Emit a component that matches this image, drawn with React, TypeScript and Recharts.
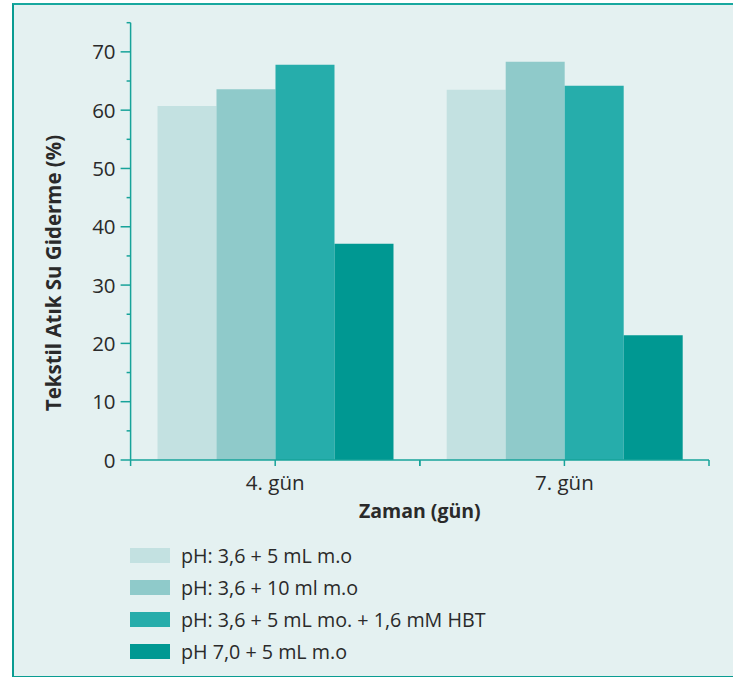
import React from "react";
import { BarChart, Bar, XAxis, YAxis } from "recharts";

// ==================== 数据 ====================
const categories = ["4. gün", "7. gün"];
const seriesNames = [
  "pH: 3,6 + 5 mL m.o",
  "pH: 3,6 + 10 ml m.o",
  "pH: 3,6 + 5 mL mo. + 1,6 mM HBT",
  "pH 7,0 + 5 mL m.o",
];
const series1 = [60.7, 63.5];
const series2 = [63.6, 68.3];
const series3 = [67.8, 64.2];
const series4 = [37.1, 21.4];
const yTicks = [0, 5, 10, 15, 20, 25, 30, 35, 40, 45, 50, 55, 60, 65, 70, 75];

const colors = ["#c3e1e1", "#8fcaca", "#26adab", "#009892"];
const axisColor = "#17a39a";
const textColor = "#2a2a2a";
const font = "'Open Sans', 'DejaVu Sans', sans-serif";

const data = categories.map((c, i) => ({
  name: c,
  s1: series1[i],
  s2: series2[i],
  s3: series3[i],
  s4: series4[i],
}));

const W = 733;
const H = 677;
const margin = { top: 22.7, right: 24, left: 0, bottom: 157 };
const Y_AXIS_W = 130.6;
const X_AXIS_H = 60;
const TICK = 10;
const TICK_MARGIN = 5;

function YTick(props: any) {
  const { x, y, payload } = props;
  const v = payload.value;
  const major = v % 10 === 0 && v <= 70;
  const axisX = x + TICK_MARGIN + TICK;
  const len = major ? TICK : 4;
  return (
    <g>
      <line x1={axisX - len} y1={y} x2={axisX} y2={y} stroke={axisColor} strokeWidth={1.5} />
      {major && (
        <text x={x} y={y} dy={7.5} textAnchor="end" fill={textColor} fontSize={20.5} fontFamily={font}>
          {v}
        </text>
      )}
    </g>
  );
}

function XTick(props: any) {
  const { x, y, payload } = props;
  const plotW = W - margin.left - Y_AXIS_W - margin.right;
  const half = payload.offset || plotW / categories.length / 2;
  const axisY = y - 8;
  return (
    <g>
      {[x - half, x, x + half].map((tx, i) => (
        <line key={i} x1={tx} y1={axisY} x2={tx} y2={axisY + 6} stroke={axisColor} strokeWidth={1.5} />
      ))}
      <text x={x} y={axisY + 30} textAnchor="middle" fill={textColor} fontSize={20.5} fontFamily={font}>
        {payload.value}
      </text>
    </g>
  );
}

export default function App() {
  return (
    <div style={{ position: "absolute", left: 0, top: 0, width: W, height: H, overflow: "hidden", background: "#fff" }}>
      <div
        style={{
          position: "absolute",
          left: 12,
          top: 3,
          width: W,
          height: H - 6,
          background: "#e4f1f1",
          borderLeft: "2.5px solid #0a9c92",
          borderTop: "2px solid #18a89f",
          borderBottom: "2px solid #0a9c92",
        }}
      />
      <div style={{ position: "absolute", left: 0, top: 0 }}>
        <BarChart width={W} height={H} data={data} margin={margin} barCategoryGap="9.3%" barGap={0}>
          <XAxis
            dataKey="name"
            height={X_AXIS_H}
            axisLine={{ stroke: axisColor, strokeWidth: 1.5 }}
            tickLine={false}
            tickSize={0}
            tickMargin={8}
            tick={<XTick />}
            label={{
              value: "Zaman (gün)",
              position: "insideBottom",
              offset: 0,
              dy: -2,
              fill: textColor,
              fontSize: 19.5,
              fontWeight: 700,
              fontFamily: font,
            }}
          />
          <YAxis
            type="number"
            domain={[0, 75]}
            ticks={yTicks}
            interval={0}
            width={Y_AXIS_W}
            axisLine={{ stroke: axisColor, strokeWidth: 1.5 }}
            tickLine={false}
            tickSize={TICK}
            tickMargin={TICK_MARGIN}
            tick={<YTick />}
            label={{
              content: () => (
                <text
                  x={61}
                  y={273}
                  transform="rotate(-90 61 273)"
                  textAnchor="middle"
                  fill={textColor}
                  fontSize={20.5}
                  fontWeight={700}
                  fontFamily={font}
                >
                  Tekstil Atık Su Giderme (%)
                </text>
              ),
            }}
          />
          <Bar dataKey="s1" name={seriesNames[0]} fill={colors[0]} isAnimationActive={false} />
          <Bar dataKey="s2" name={seriesNames[1]} fill={colors[1]} isAnimationActive={false} />
          <Bar dataKey="s3" name={seriesNames[2]} fill={colors[2]} isAnimationActive={false} />
          <Bar dataKey="s4" name={seriesNames[3]} fill={colors[3]} isAnimationActive={false} />
        </BarChart>
      </div>
      {/* 图例 */}
      <div style={{ position: "absolute", left: 130, top: 539.8, fontFamily: font, fontSize: 19.7, color: textColor }}>
        {seriesNames.map((n, i) => (
          <div key={n} style={{ display: "flex", alignItems: "center", height: 32 }}>
            <span style={{ width: 40, height: 15, background: colors[i], display: "inline-block", marginRight: 11, flexShrink: 0 }} />
            <span style={{ whiteSpace: "nowrap" }}>{n}</span>
          </div>
        ))}
      </div>
    </div>
  );
}
